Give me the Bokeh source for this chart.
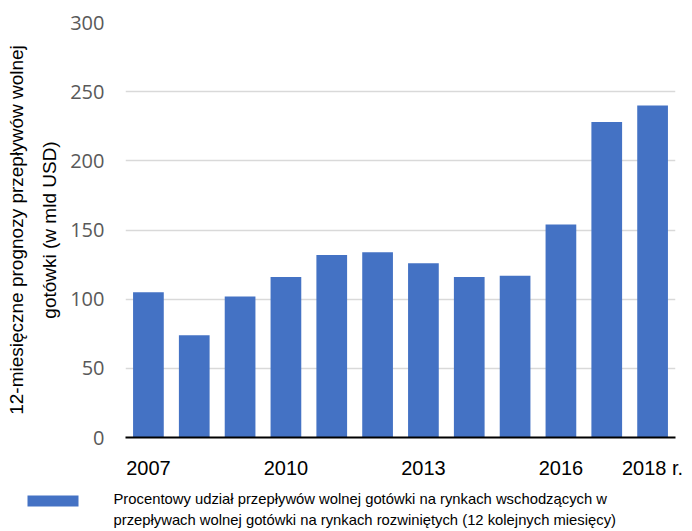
from bokeh.core.properties import value
from bokeh.embed import file_html
from bokeh.models import ColumnDataSource, FixedTicker, Range1d, Title
from bokeh.plotting import figure
from bokeh.resources import INLINE

# 12-month forward free cash flow forecasts, USD bn
years = ["2007", "2008", "2009", "2010", "2011", "2012",
         "2013", "2014", "2015", "2016", "2017", "2018"]
values = [105, 74, 102, 116, 132, 134, 126, 116, 117, 154, 228, 240]

tick_years = ["2007", "2010", "2013", "2016", "2018"]
tick_texts = ["2007", "2010", "2013", "2016", "2018 r."]

y_ticks = [0, 50, 100, 150, 200, 250, 300]

title_lines = ["12-miesięczne prognozy przepływów wolnej",
               "gotówki (w mld USD)"]
legend_lines = ["Procentowy udział przepływów wolnej gotówki na rynkach wschodzących w",
                "przepływach wolnej gotówki na rynkach rozwiniętych (12 kolejnych miesięcy)"]

SANS = "Liberation Sans"
BAR = "#4472C4"
W, H_CHART, H_KEY = 692, 485, 46

src = ColumnDataSource(dict(x=list(range(len(years))), top=values, year=years))

p = figure(width=W, height=H_CHART, output_backend="svg", toolbar_location=None,
           x_range=Range1d(-0.5, len(years) - 0.5), y_range=Range1d(0, 300),
           min_border_left=125, min_border_right=17, min_border_top=22,
           min_border_bottom=48)
p.outline_line_color = None
p.background_fill_color = "white"
p.border_fill_color = "white"

bars = p.vbar(x="x", top="top", width=0.67, source=src,
              fill_color=BAR, line_color=None)

# x axis: year labels every third bar
p.xaxis.ticker = FixedTicker(ticks=[years.index(y) for y in tick_years])
p.xaxis.major_label_overrides = {years.index(y): t for y, t in zip(tick_years, tick_texts)}
p.xaxis.axis_line_color = "black"
p.xaxis.axis_line_width = 2
p.xaxis.major_tick_line_color = None
p.xaxis.minor_tick_line_color = None
p.xaxis.major_label_text_font = SANS
p.xaxis.major_label_text_font_size = "20px"
p.xaxis.major_label_text_color = "black"
p.xaxis.major_label_standoff = 13
p.xgrid.grid_line_color = None

# y axis
p.yaxis.ticker = FixedTicker(ticks=y_ticks)
p.yaxis.axis_line_color = None
p.yaxis.major_tick_line_color = None
p.yaxis.minor_tick_line_color = None
p.yaxis.major_label_text_font = "Open Sans"
p.yaxis.major_label_text_font_size = "20px"
p.yaxis.major_label_text_color = "#595959"
p.yaxis.major_label_standoff = 15
p.ygrid.grid_line_color = "#d9d9d9"
p.ygrid.grid_line_width = 1.5

# two-line axis title, stacked outward from the y axis
for line, gap in zip(reversed(title_lines), [15, 5]):
    p.add_layout(Title(text=line, align="center", text_font=SANS,
                       text_font_size="19px", text_font_style="normal",
                       text_color="black", standoff=gap, offset=0), "left")

# key strip under the chart: swatch and two-line description
key = figure(width=W, height=H_KEY, output_backend="svg", toolbar_location=None,
             x_range=Range1d(0, W), y_range=Range1d(0, H_KEY),
             x_axis_type=None, y_axis_type=None, min_border=0)
key.outline_line_color = None
key.grid.grid_line_color = None
key.quad(left=[27], right=[78], bottom=[25], top=[36],
         fill_color=BAR, line_color=None)
key.text(x=[113, 113], y=[33, 12], text=legend_lines,
         text_font=value(SANS), text_font_size="14.8px", text_color="black",
         text_align="left", text_baseline="middle")

# two independent roots, stacked on the page
open("out.html", "w").write(file_html([p, key], INLINE))
